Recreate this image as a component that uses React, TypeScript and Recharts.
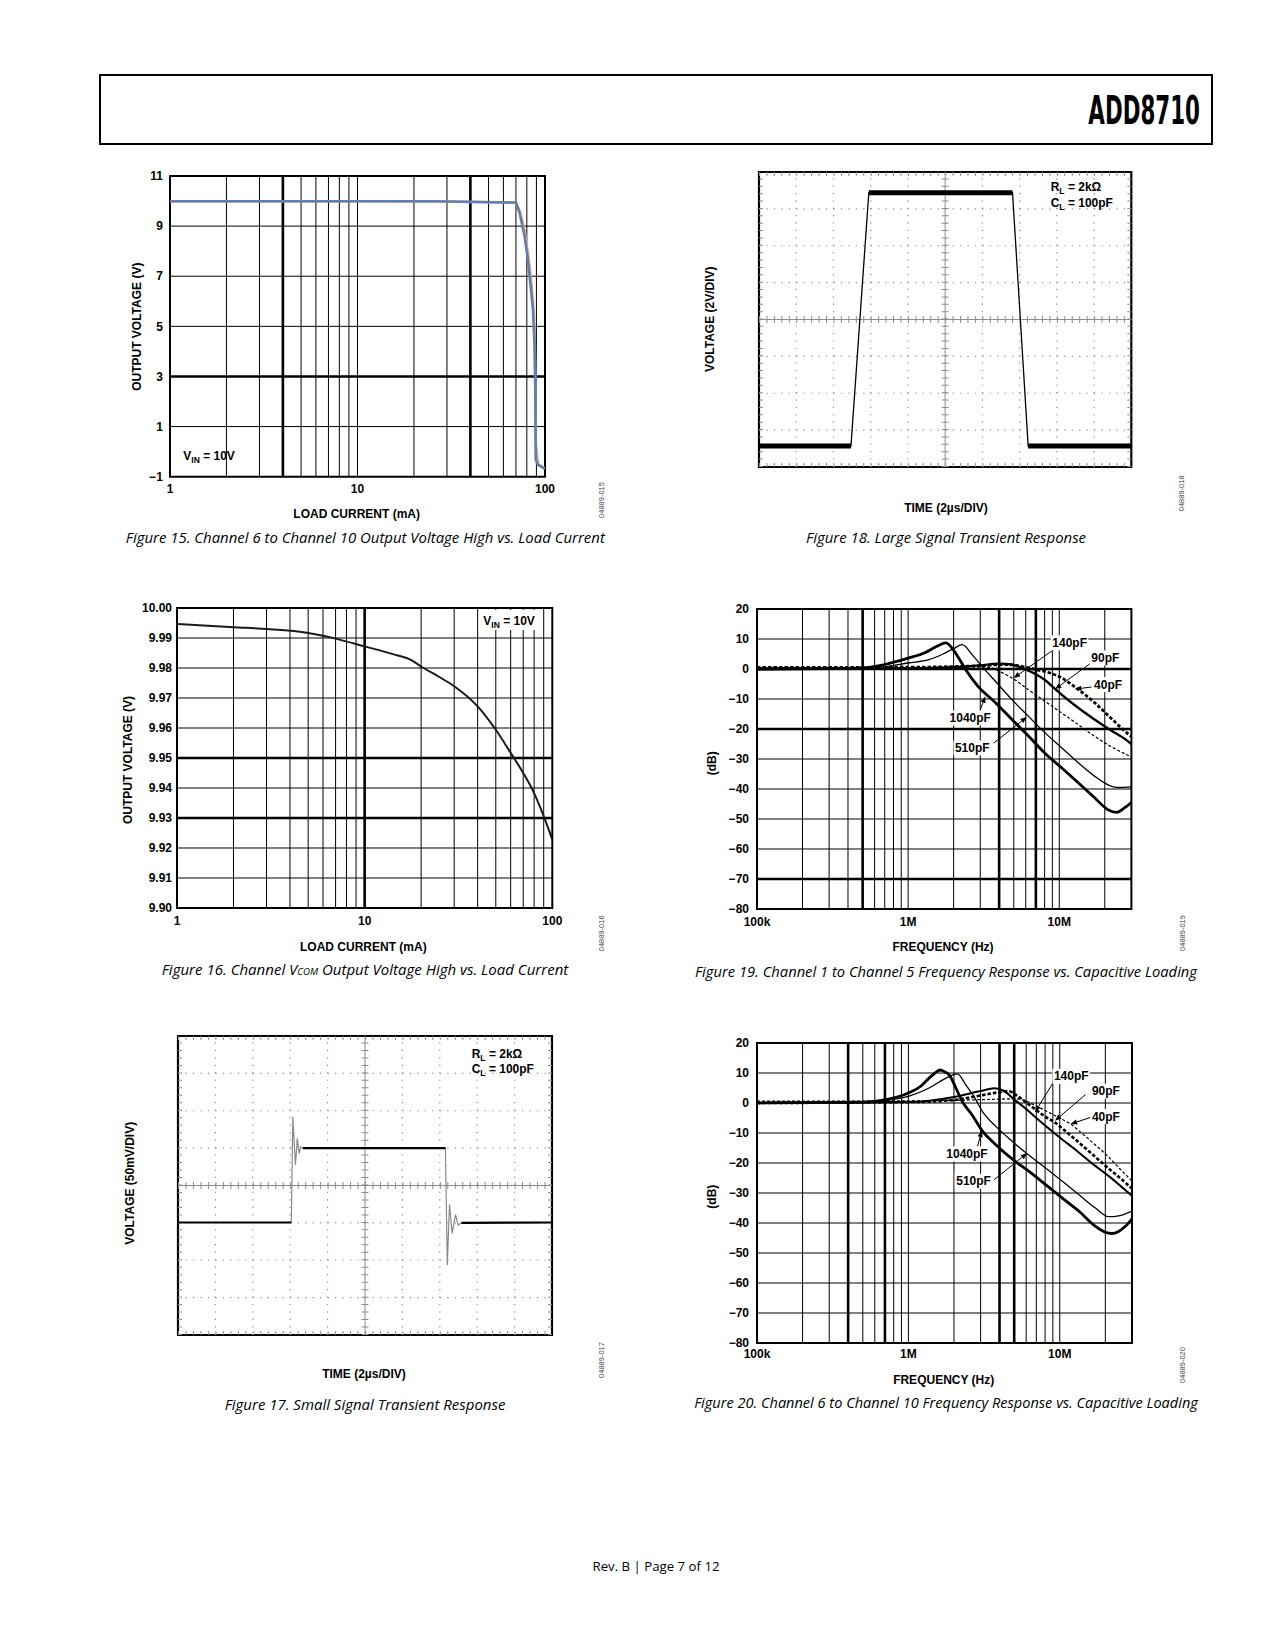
import React from 'react'
import { LineChart, Line, XAxis, YAxis, ReferenceLine, ReferenceDot, ReferenceArea } from 'recharts'

const SANS = '"Liberation Sans", Arial, Helvetica, sans-serif'
const CAP = '"Open Sans", "Noto Sans", sans-serif'

// ---------- Figure 15: Ch6..Ch10 output voltage high vs load current
const fig15Current = [1, 10, 25, 40, 70, 73.3, 77.9, 81.5, 84.6, 86.3, 88, 88.8, 89.2, 91.8, 100]
const fig15Blue = [9.99, 9.99, 9.99, 9.97, 9.94, 9.51, 8.58, 7.51, 6.32, 5.65, 4.19, 2.33, -0.33, -0.53, -0.69]
const fig15Orange = [9.99, 9.99, 9.98, 9.96, 9.93, 9.62, 8.8, 7.8, 6.7, 6.0, 4.8, 3.0, 0.4, -0.5, -0.67]
const fig15VTicks = [-1, 1, 3, 5, 7, 9, 11]
const fig15VGrid = [1, 3, 5, 7, 9]
const fig15BoldV = [3]
const fig15BoldI = [4, 40]

// ---------- Figure 16: VCOM output voltage high vs load current
const fig16Current = [1, 2, 3, 5, 7, 10, 14, 18, 20, 25, 30, 40, 50, 60, 70, 80, 90, 100]
const fig16Vout = [9.9947, 9.9936, 9.993, 9.9917, 9.9898, 9.9872, 9.9847, 9.9824, 9.9805, 9.977, 9.9739, 9.9672, 9.9594, 9.9517, 9.945, 9.9383, 9.9306, 9.9228]
const fig16VTicks = [9.9, 9.91, 9.92, 9.93, 9.94, 9.95, 9.96, 9.97, 9.98, 9.99, 10]
const fig16VGrid = [9.91, 9.92, 9.93, 9.94, 9.95, 9.96, 9.97, 9.98, 9.99]
const fig16BoldV = [9.93, 9.95]
const fig16BoldI = [10]

const loadTicks = [1, 10, 100]
const loadGrid = [2, 3, 4, 5, 6, 7, 8, 9, 10, 20, 30, 40, 50, 60, 70, 80, 90]

// ---------- Frequency response axes
const freqTicks = [1e5, 1e6, 1e7]
const freqGrid = [2e5, 3e5, 4e5, 5e5, 6e5, 7e5, 8e5, 9e5, 1e6, 2e6, 3e6, 4e6, 5e6, 6e6, 7e6, 8e6, 9e6, 1e7, 2e7]
const dbTicks = [20, 10, 0, -10, -20, -30, -40, -50, -60, -70, -80]
const dbGrid = [10, 0, -10, -20, -30, -40, -50, -60, -70]

// ---------- Figure 19: Ch1..Ch5 frequency response vs capacitive load
const f19c1040F = [1e5, 3e5, 5e5, 7e5, 1e6, 1.3e6, 1.55e6, 1.78e6, 2.0e6, 2.2e6, 2.4e6, 2.9e6, 3.8e6, 4.9e6, 6.3e6, 8e6, 10.4e6, 13.4e6, 17.2e6, 21e6, 24e6, 27e6, 30e6]
const f19c1040Db = [0, 0.1, 0.4, 1.5, 3.6, 5.5, 7.6, 8.7, 6.2, 3, -0.2, -5.8, -11.3, -17, -22.5, -28, -33, -38, -43, -46.9, -47.8, -46.3, -44.5]
const f19c510F = [1e5, 5e5, 7e5, 1e6, 1.37e6, 1.7e6, 2.0e6, 2.28e6, 2.65e6, 3.08e6, 3.78e6, 4.86e6, 6.26e6, 8.06e6, 10.4e6, 13.4e6, 17.2e6, 21e6, 24.5e6, 30e6]
const f19c510Db = [0, 0.2, 0.7, 2, 3.1, 5, 6.8, 8.1, 4.8, 0.9, -4.1, -10.2, -15.8, -21.3, -26.3, -31.3, -35.8, -38.6, -39.5, -39.3]
const f19c140F = [1e5, 1e6, 2e6, 3e6, 3.5e6, 3.78e6, 4.3e6, 4.86e6, 6.26e6, 8.06e6, 10.4e6, 13.4e6, 17.2e6, 21.9e6, 28e6, 30e6]
const f19c140Db = [0.3, 0.4, 0.6, 0.7, 0.5, -0.2, -1.5, -3, -6.9, -10.8, -14.7, -18.6, -22.5, -25.8, -28.6, -29.3]
const f19c90F = [1e5, 1e6, 2e6, 3e6, 4e6, 4.8e6, 5.6e6, 6.9e6, 8e6, 9.4e6, 10.4e6, 13.4e6, 17.2e6, 21.9e6, 28e6, 30e6]
const f19c90Db = [0, 0.2, 0.6, 1.2, 1.8, 1.5, 0.5, -1.6, -3.6, -6.7, -8.6, -13, -16.9, -20.4, -23.8, -25]
const f19c40F = [1e5, 1e6, 2e6, 3e6, 4.5e6, 6e6, 7e6, 8e6, 10.4e6, 12.7e6, 17.2e6, 21.9e6, 28e6, 30e6]
const f19c40Db = [0.5, 0.6, 0.8, 1.1, 1.5, 0.6, -0.2, -0.8, -3, -6, -11.3, -16.3, -21.3, -22.5]
const fig19BoldF = [5e5, 4e6, 7e6]
const fig19BoldDb = [0, -20, -70]
const fig19LabelText = ['140pF', '90pF', '40pF', '1040pF', '510pF']
const fig19LabelAt: [number, number][] = [[9.0e6, 8.7], [16.3e6, 3.7], [17e6, -5.2], [1.88e6, -16.3], [2.04e6, -26.3]]
const fig19ArrowFrom: [number, number][] = [[9.15e6, 6.4], [16.2e6, 2], [16.35e6, -6], [3.0e6, -13.6], [3.68e6, -24.7]]
const fig19ArrowTo: [number, number][] = [[4.99e6, -3], [9.38e6, -6.7], [12.7e6, -6.7], [3.24e6, -9.1], [6.1e6, -16]]

// ---------- Figure 20: Ch6..Ch10 frequency response vs capacitive load
const f20c1040F = [1e5, 5e5, 7e5, 1e6, 1.2e6, 1.37e6, 1.5e6, 1.62e6, 1.75e6, 1.86e6, 2.06e6, 2.27e6, 2.63e6, 3.07e6, 3.78e6, 5.1e6, 6.26e6, 8.06e6, 10.4e6, 13.4e6, 17.2e6, 20e6, 22e6, 24.5e6, 27e6, 30e6]
const f20c1040Db = [0, 0.3, 1, 3.3, 5.5, 8.3, 10, 11, 10.3, 9.4, 5, 0.5, -3.9, -9.2, -13.9, -19.5, -22.8, -27.2, -31.7, -36.1, -41.1, -43.1, -43.5, -42.8, -41.2, -38.6]
const f20c510F = [1e5, 5e5, 7e5, 1e6, 1.37e6, 1.7e6, 2.11e6, 2.39e6, 2.71e6, 3.08e6, 3.78e6, 4.86e6, 6.0e6, 8.06e6, 10.4e6, 13.4e6, 17.2e6, 21e6, 24.5e6, 30e6]
const f20c510Db = [0, 0.2, 0.8, 2.2, 5, 7.8, 9.7, 6.1, 2.2, -2.8, -7.8, -12.8, -16.7, -21.7, -26.1, -30.6, -35, -37.9, -37.6, -36]
const f20c140F = [1e5, 1e6, 2e6, 3e6, 3.7e6, 4.3e6, 4.86e6, 6e6, 7e6, 8e6, 10e6, 13e6, 17e6, 21e6, 25e6, 30e6]
const f20c140Db = [0, 0.3, 2, 4, 4.9, 4, 1.7, -2, -5, -7.5, -11.5, -16, -20.8, -24.3, -27.5, -31]
const f20c90F = [1e5, 1e6, 2e6, 3e6, 4e6, 4.6e6, 5.2e6, 6.3e6, 8e6, 9.3e6, 10.4e6, 13.4e6, 17.2e6, 21e6, 25e6, 30e6]
const f20c90Db = [0, 0.3, 1, 2.5, 3.6, 3.9, 2.5, -0.6, -4.5, -6.5, -8.5, -13.2, -18, -21.8, -25, -28.5]
const f20c40F = [1e5, 1e6, 2e6, 3e6, 4e6, 5e6, 5.7e6, 7e6, 8e6, 10.4e6, 11.8e6, 13.4e6, 17.2e6, 21e6, 25e6, 30e6]
const f20c40Db = [0.6, 0.7, 0.9, 1.1, 1.3, 1.4, 1, -1, -2.5, -5.5, -7, -9.3, -14, -18, -22, -26]
const fig20BoldF = [4e5, 7e5, 4e6, 5e6]
const fig20BoldDb: number[] = []
const fig20LabelText = ['140pF', '90pF', '40pF', '1040pF', '510pF']
const fig20LabelAt: [number, number][] = [[9.15e6, 8.9], [16.3e6, 3.9], [16.3e6, -4.5], [1.78e6, -17], [2.07e6, -26.1]]
const fig20ArrowFrom: [number, number][] = [[9.15e6, 7.2], [14.8e6, 2.8], [16e6, -4.8], [2.86e6, -14.5], [3.68e6, -25.6]]
const fig20ArrowTo: [number, number][] = [[6.86e6, -3], [9.3e6, -5.9], [11.8e6, -7], [3.06e6, -9.2], [6.1e6, -16.7]]

// ---------- Scope captures (divisions: 10 horizontal, 8 vertical)
const largeTime = [0, 2.47, 2.95, 6.81, 7.23, 10]
const largeLevel = [0.57, 0.57, 7.44, 7.44, 0.57, 0.57]
const largeSettled: [number, number][] = [[0, 1], [2, 3], [4, 5]]
const smallTime = [0, 3.03, 3.07, 3.14, 3.19, 3.24, 3.28, 3.34, 7.15, 7.2, 7.26, 7.33, 7.42, 7.49, 7.58, 10]
const smallLevel = [3.01, 3.01, 5.84, 4.55, 5.26, 4.86, 5.04, 5.0, 5.0, 1.87, 3.5, 2.72, 3.22, 2.94, 3.0, 3.01]
const smallSettled: [number, number][] = [[0, 1], [7, 8], [14, 15]]
const scopeDivX = [1, 2, 3, 4, 6, 7, 8, 9]
const scopeDivY = [1, 2, 3, 5, 6, 7]

type Trace = { x: number[]; y: number[]; color: string; width: number; dash?: string; curve?: 'linear' | 'monotone' }

const rows = (xs: number[], ys: number[]) => xs.map((x, i) => ({ x, y: ys[i] }))
const has = (list: number[], v: number) => list.some(b => Math.abs(b - v) < 1e-9)
const minus = (v: number) => (v < 0 ? '\u2212' + Math.abs(v) : String(v))
const freqFmt = (v: number) => (v >= 1e6 ? v / 1e6 + 'M' : v / 1e3 + 'k')

const tickStyle = { fill: '#000', fontSize: 12, fontWeight: 700, fontFamily: SANS }

const arrowShape = (p: any) => {
  const { x1, y1, x2, y2 } = p
  if (x1 == null) return <g />
  const a = Math.atan2(y2 - y1, x2 - x1)
  const L = 6.5
  const W = 2.6
  const bx = x2 - L * Math.cos(a)
  const by = y2 - L * Math.sin(a)
  const pts = `${x2},${y2} ${bx - W * Math.sin(a)},${by + W * Math.cos(a)} ${bx + W * Math.sin(a)},${by - W * Math.cos(a)}`
  return (
    <g>
      <line x1={x1} y1={y1} x2={bx} y2={by} stroke="#000" strokeWidth={1} />
      <polygon points={pts} fill="#000" />
    </g>
  )
}

const labelShape = (text: string) => (p: any) => {
  const w = text.length * 6.9
  return (
    <g>
      <rect x={p.cx - 1.5} y={p.cy - 7.5} width={w + 3} height={15} fill="#fff" />
      <text x={p.cx} y={p.cy} dominantBaseline="central" fontFamily={SANS} fontWeight={700} fontSize={12} fill="#000">
        {text}
      </text>
    </g>
  )
}

interface GridPlotProps {
  left: number
  top: number
  width: number
  height: number
  xDomain: [number, number]
  yDomain: [number, number]
  xTicks: number[]
  yTicks: number[]
  xGrid: number[]
  yGrid: number[]
  xBold: number[]
  yBold: number[]
  xFmt: (v: number) => string
  yFmt: (v: number) => string
  xGap: number
  yGap: number
  traces: Trace[]
  labels?: string[]
  labelAt?: [number, number][]
  arrowFrom?: [number, number][]
  arrowTo?: [number, number][]
}

const PL = 60
const PT = 10
const PR = 12
const PB = 30

function GridPlot(p: GridPlotProps) {
  return (
    <div style={{ position: 'absolute', left: p.left - PL, top: p.top - PT }}>
      <LineChart width={p.width + PL + PR} height={p.height + PT + PB} margin={{ top: PT, right: PR, left: 0, bottom: 0 }}>
        <XAxis
          type="number"
          dataKey="x"
          scale="log"
          domain={p.xDomain}
          ticks={p.xTicks}
          interval={0}
          allowDataOverflow
          height={PB}
          axisLine={false}
          tickLine={false}
          tickSize={0}
          tickMargin={p.xGap}
          tick={tickStyle}
          tickFormatter={p.xFmt}
        />
        <YAxis
          type="number"
          domain={p.yDomain}
          ticks={p.yTicks}
          interval={0}
          allowDataOverflow
          width={PL}
          axisLine={false}
          tickLine={false}
          tickSize={0}
          tickMargin={p.yGap}
          tick={tickStyle}
          tickFormatter={p.yFmt}
        />
        {p.xGrid.map(v => (
          <ReferenceLine key={'gx' + v} x={v} stroke="#000" strokeWidth={has(p.xBold, v) ? 2.6 : 1} />
        ))}
        {p.yGrid.map(v => (
          <ReferenceLine key={'gy' + v} y={v} stroke="#000" strokeWidth={has(p.yBold, v) ? 2.6 : 1} />
        ))}
        <ReferenceArea x1={p.xDomain[0]} x2={p.xDomain[1]} y1={p.yDomain[0]} y2={p.yDomain[1]} fill="none" fillOpacity={0} stroke="#000" strokeWidth={2} ifOverflow="visible" />
        {p.traces.map((t, i) => (
          <Line
            key={'t' + i}
            data={rows(t.x, t.y)}
            dataKey="y"
            type={t.curve ?? 'monotone'}
            stroke={t.color}
            strokeWidth={t.width}
            strokeDasharray={t.dash}
            dot={false}
            activeDot={false}
            isAnimationActive={false}
          />
        ))}
        {(p.arrowFrom ?? []).map((a, i) => (
          <ReferenceLine
            key={'ar' + i}
            segment={[{ x: a[0], y: a[1] }, { x: p.arrowTo![i][0], y: p.arrowTo![i][1] }]}
            stroke="#000"
            strokeWidth={1}
            shape={arrowShape}
          />
        ))}
        {(p.labels ?? []).map((txt, i) => (
          <ReferenceDot key={'lb' + i} x={p.labelAt![i][0]} y={p.labelAt![i][1]} r={1} shape={labelShape(txt)} />
        ))}
      </LineChart>
    </div>
  )
}

interface ScopeProps {
  left: number
  top: number
  width: number
  height: number
  time: number[]
  level: number[]
  settled: [number, number][]
  edgeColor: string
  edgeWidth: number
  flatWidth: number
}

const SM = 8

function ScopePlot(p: ScopeProps) {
  const mx = p.width / 50
  const my = p.height / 40
  const ex = (2 / p.width) * 10
  const ey = (2 / p.height) * 8
  const grid = '#8c8c8c'
  return (
    <div style={{ position: 'absolute', left: p.left - SM, top: p.top - SM }}>
      <LineChart width={p.width + 2 * SM} height={p.height + 2 * SM} margin={{ top: SM, right: SM, left: SM, bottom: SM }}>
        <XAxis type="number" dataKey="x" domain={[0, 10]} hide allowDataOverflow />
        <YAxis type="number" domain={[0, 8]} hide allowDataOverflow />
        {scopeDivX.map(v => (
          <ReferenceLine key={'dx' + v} x={v} stroke={grid} strokeWidth={1.2} strokeDasharray={`1.2 ${my - 1.2}`} />
        ))}
        {scopeDivY.map(v => (
          <ReferenceLine key={'dy' + v} y={v} stroke={grid} strokeWidth={1.2} strokeDasharray={`1.2 ${mx - 1.2}`} />
        ))}
        <ReferenceLine x={5} stroke={grid} strokeWidth={1} />
        <ReferenceLine y={4} stroke={grid} strokeWidth={1} />
        <ReferenceLine x={5} stroke={grid} strokeWidth={7} strokeDasharray={`1 ${my - 1}`} />
        <ReferenceLine y={4} stroke={grid} strokeWidth={7} strokeDasharray={`1 ${mx - 1}`} />
        <ReferenceLine x={ex} stroke={grid} strokeWidth={4} strokeDasharray={`1 ${my - 1}`} />
        <ReferenceLine x={10 - ex} stroke={grid} strokeWidth={4} strokeDasharray={`1 ${my - 1}`} />
        <ReferenceLine y={ey} stroke={grid} strokeWidth={4} strokeDasharray={`1 ${mx - 1}`} />
        <ReferenceLine y={8 - ey} stroke={grid} strokeWidth={4} strokeDasharray={`1 ${mx - 1}`} />
        <ReferenceArea x1={0} x2={10} y1={0} y2={8} fill="none" fillOpacity={0} stroke="#000" strokeWidth={2.2} ifOverflow="visible" />
        <Line
          data={rows(p.time, p.level)}
          dataKey="y"
          type="linear"
          stroke={p.edgeColor}
          strokeWidth={p.edgeWidth}
          dot={false}
          activeDot={false}
          isAnimationActive={false}
        />
        {p.settled.map(([a, b], i) => (
          <Line
            key={'s' + i}
            data={rows(p.time.slice(a, b + 1), p.level.slice(a, b + 1))}
            dataKey="y"
            type="linear"
            stroke="#000"
            strokeWidth={p.flatWidth}
            dot={false}
            activeDot={false}
            isAnimationActive={false}
          />
        ))}
      </LineChart>
    </div>
  )
}

const fig19Traces: Trace[] = [
  { x: f19c1040F, y: f19c1040Db, color: '#000', width: 2.8 },
  { x: f19c510F, y: f19c510Db, color: '#000', width: 1.3 },
  { x: f19c140F, y: f19c140Db, color: '#000', width: 1.2, dash: '3 2' },
  { x: f19c90F, y: f19c90Db, color: '#000', width: 2.4 },
  { x: f19c40F, y: f19c40Db, color: '#000', width: 2.8, dash: '3.5 2' },
]

const fig20Traces: Trace[] = [
  { x: f20c1040F, y: f20c1040Db, color: '#000', width: 2.8 },
  { x: f20c510F, y: f20c510Db, color: '#000', width: 1.3 },
  { x: f20c140F, y: f20c140Db, color: '#000', width: 2 },
  { x: f20c90F, y: f20c90Db, color: '#000', width: 2.6, dash: '3.5 2' },
  { x: f20c40F, y: f20c40Db, color: '#000', width: 1.2, dash: '3 2' },
]

function AxisTitle({ x, y, text, rotate }: { x: number; y: number; text: string; rotate?: boolean }) {
  return (
    <text
      x={x}
      y={y}
      transform={rotate ? `rotate(-90 ${x} ${y})` : undefined}
      textAnchor="middle"
      dominantBaseline="central"
      fontFamily={SANS}
      fontWeight={700}
      fontSize={12}
      fill="#000"
    >
      {text}
    </text>
  )
}

function FigId({ x, y, text }: { x: number; y: number; text: string }) {
  return (
    <text x={x} y={y} transform={`rotate(-90 ${x} ${y})`} textAnchor="middle" dominantBaseline="central" fontFamily={SANS} fontSize={7.5} fill="#444">
      {text}
    </text>
  )
}

function Caption({ cx, cy, w, children }: { cx: number; cy: number; w: number; children: React.ReactNode }) {
  return (
    <text x={cx} y={cy + 5} textAnchor="middle" fontFamily={CAP} fontStyle="italic" fontSize={14} fill="#000" textLength={w} lengthAdjust="spacingAndGlyphs">
      {children}
    </text>
  )
}

function SubLabel({ x, cy, main, sub, rest }: { x: number; cy: number; main: string; sub: string; rest: string }) {
  return (
    <text x={x} y={cy + 4.3} fontFamily={SANS} fontWeight={700} fontSize={12} fill="#000">
      {main}
      <tspan fontSize={8.5} dy={3}>{sub}</tspan>
      <tspan dy={-3}>{rest}</tspan>
    </text>
  )
}

export default function App() {
  return (
    <div style={{ position: 'absolute', left: 0, top: 0, width: 1275, height: 1650, background: '#fff', overflow: 'hidden' }}>
      <GridPlot
        left={170.3}
        top={176}
        width={375}
        height={300.7}
        xDomain={[1, 100]}
        yDomain={[-1, 11]}
        xTicks={loadTicks}
        yTicks={fig15VTicks}
        xGrid={loadGrid}
        yGrid={fig15VGrid}
        xBold={fig15BoldI}
        yBold={fig15BoldV}
        xFmt={v => String(v)}
        yFmt={minus}
        xGap={7.4}
        yGap={7}
        traces={[
          { x: fig15Current, y: fig15Orange, color: '#f2a35a', width: 2.6, curve: 'linear' },
          { x: fig15Current, y: fig15Blue, color: '#5b7fb6', width: 2.6, curve: 'linear' },
        ]}
      />
      <GridPlot
        left={176.7}
        top={608.3}
        width={375.3}
        height={300}
        xDomain={[1, 100]}
        yDomain={[9.9, 10]}
        xTicks={loadTicks}
        yTicks={fig16VTicks}
        xGrid={loadGrid}
        yGrid={fig16VGrid}
        xBold={fig16BoldI}
        yBold={fig16BoldV}
        xFmt={v => String(v)}
        yFmt={v => v.toFixed(2)}
        xGap={8.5}
        yGap={5}
        traces={[{ x: fig16Current, y: fig16Vout, color: '#1a1a1a', width: 2 }]}
      />
      <GridPlot
        left={757.3}
        top={609.3}
        width={374.4}
        height={300}
        xDomain={[1e5, 3e7]}
        yDomain={[-80, 20]}
        xTicks={freqTicks}
        yTicks={dbTicks}
        xGrid={freqGrid}
        yGrid={dbGrid}
        xBold={fig19BoldF}
        yBold={fig19BoldDb}
        xFmt={freqFmt}
        yFmt={minus}
        xGap={8.2}
        yGap={8}
        traces={fig19Traces}
        labels={fig19LabelText}
        labelAt={fig19LabelAt}
        arrowFrom={fig19ArrowFrom}
        arrowTo={fig19ArrowTo}
      />
      <GridPlot
        left={757.3}
        top={1043.3}
        width={375}
        height={300}
        xDomain={[1e5, 3e7]}
        yDomain={[-80, 20]}
        xTicks={freqTicks}
        yTicks={dbTicks}
        xGrid={freqGrid}
        yGrid={dbGrid}
        xBold={fig20BoldF}
        yBold={fig20BoldDb}
        xFmt={freqFmt}
        yFmt={minus}
        xGap={6.8}
        yGap={8}
        traces={fig20Traces}
        labels={fig20LabelText}
        labelAt={fig20LabelAt}
        arrowFrom={fig20ArrowFrom}
        arrowTo={fig20ArrowTo}
      />
      <ScopePlot left={759} top={171.7} width={372.3} height={295} time={largeTime} level={largeLevel} settled={largeSettled} edgeColor="#000" edgeWidth={1.3} flatWidth={5} />
      <ScopePlot left={178.3} top={1036} width={374} height={299} time={smallTime} level={smallLevel} settled={smallSettled} edgeColor="#8a8a8a" edgeWidth={1.2} flatWidth={2.2} />

      <svg width={1275} height={1650} style={{ position: 'absolute', left: 0, top: 0, pointerEvents: 'none' }}>
        {/* page header */}
        <rect x={100} y={75} width={1112} height={69} fill="none" stroke="#000" strokeWidth={2} />
        <text
          x={0}
          y={0}
          transform="translate(1200 124) scale(0.61 1)"
          textAnchor="end"
          fontFamily='"Liberation Sans Narrow", "DejaVu Sans Condensed", sans-serif'
          fontWeight={700}
          fontSize={39}
        >
          ADD8710
        </text>

        {/* Figure 15 */}
        <AxisTitle x={136.7} y={326.7} text="OUTPUT VOLTAGE (V)" rotate />
        <AxisTitle x={356.7} y={514.3} text="LOAD CURRENT (mA)" />
        <SubLabel x={183.3} cy={455.7} main="V" sub="IN" rest=" = 10V" />
        <FigId x={601.7} y={500} text="04889-015" />
        <Caption cx={365.3} cy={538.3} w={479}>Figure 15. Channel 6 to Channel 10 Output Voltage High vs. Load Current</Caption>

        {/* Figure 18 */}
        <AxisTitle x={710} y={319.3} text="VOLTAGE (2V/DIV)" rotate />
        <AxisTitle x={946} y={508.3} text="TIME (2µs/DIV)" />
        <SubLabel x={1050.7} cy={186.7} main="R" sub="L" rest=" = 2kΩ" />
        <SubLabel x={1050.7} cy={202.7} main="C" sub="L" rest=" = 100pF" />
        <FigId x={1181.7} y={493.3} text="04889-018" />
        <Caption cx={946} cy={538.3} w={280}>Figure 18. Large Signal Transient Response</Caption>

        {/* Figure 16 */}
        <AxisTitle x={128.3} y={760} text="OUTPUT VOLTAGE (V)" rotate />
        <AxisTitle x={363.3} y={947.3} text="LOAD CURRENT (mA)" />
        <rect x={479} y={610} width={62} height={20} fill="#fff" />
        <SubLabel x={483.3} cy={620.7} main="V" sub="IN" rest=" = 10V" />
        <FigId x={601.7} y={933.3} text="04889-016" />
        <Caption cx={365} cy={970} w={406.6}>
          Figure 16. Channel V<tspan fontSize={9}>COM</tspan> Output Voltage High vs. Load Current
        </Caption>

        {/* Figure 19 */}
        <AxisTitle x={712} y={763.3} text="(dB)" rotate />
        <AxisTitle x={943} y={946.7} text="FREQUENCY (Hz)" />
        <FigId x={1182} y={933} text="04889-019" />
        <Caption cx={946} cy={971.7} w={502}>Figure 19. Channel 1 to Channel 5 Frequency Response vs. Capacitive Loading</Caption>

        {/* Figure 17 */}
        <AxisTitle x={130} y={1183.3} text="VOLTAGE (50mV/DIV)" rotate />
        <AxisTitle x={364} y={1374.3} text="TIME (2µs/DIV)" />
        <SubLabel x={471.7} cy={1053.3} main="R" sub="L" rest=" = 2kΩ" />
        <SubLabel x={471.7} cy={1068.3} main="C" sub="L" rest=" = 100pF" />
        <FigId x={601.7} y={1360} text="04889-017" />
        <Caption cx={365} cy={1405} w={280.7}>Figure 17. Small Signal Transient Response</Caption>

        {/* Figure 20 */}
        <AxisTitle x={712} y={1196.7} text="(dB)" rotate />
        <AxisTitle x={943.7} y={1380} text="FREQUENCY (Hz)" />
        <FigId x={1182} y={1365} text="04889-020" />
        <Caption cx={946} cy={1403.3} w={503.7}>Figure 20. Channel 6 to Channel 10 Frequency Response vs. Capacitive Loading</Caption>

        {/* footer */}
        <text x={656} y={1570.5} textAnchor="middle" fontFamily={CAP} fontSize={13} fill="#000" textLength={127} lengthAdjust="spacingAndGlyphs">
          Rev. B | Page 7 of 12
        </text>
      </svg>
    </div>
  )
}
